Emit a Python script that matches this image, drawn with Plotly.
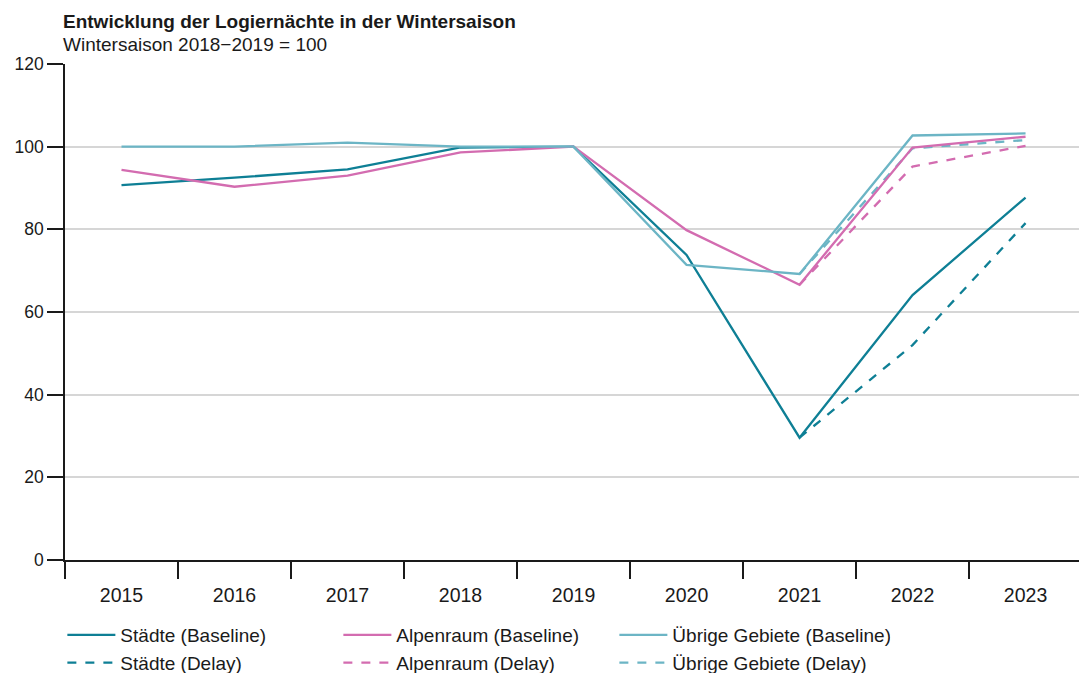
import plotly.graph_objects as go

# Data
years = ["2015", "2016", "2017", "2018", "2019", "2020", "2021", "2022", "2023"]

staedte_base = [90.7, 92.5, 94.5, 99.8, 100, 73.8, 29.6, 64.1, 87.7]
staedte_delay = [None, None, None, None, None, None, 29.6, 52.0, 81.5]
alpen_base = [94.4, 90.3, 93.0, 98.6, 100, 79.8, 66.6, 99.8, 102.4]
alpen_delay = [None, None, None, None, None, None, 66.6, 95.2, 100.2]
uebrige_base = [100, 100, 101, 100, 100, 71.4, 69.2, 102.7, 103.2]
uebrige_delay = [None, None, None, None, None, None, 69.2, 99.6, 101.6]

C_STADT = "#0E7F95"
C_ALPEN = "#D36CB0"
C_UEBRIG = "#6CB5C5"

series = [
    ("Städte (Baseline)", staedte_base, C_STADT, "solid"),
    ("Alpenraum (Baseline)", alpen_base, C_ALPEN, "solid"),
    ("Übrige Gebiete (Baseline)", uebrige_base, C_UEBRIG, "solid"),
    ("Städte (Delay)", staedte_delay, C_STADT, "dash"),
    ("Alpenraum (Delay)", alpen_delay, C_ALPEN, "dash"),
    ("Übrige Gebiete (Delay)", uebrige_delay, C_UEBRIG, "dash"),
]
rank = {s[0]: i + 1 for i, s in enumerate(series)}

fig = go.Figure()

# draw delay lines first so baselines sit on top
for name, vals, color, dash in series[3:] + series[:3]:
    fig.add_trace(go.Scatter(
        x=years, y=vals, mode="lines", name=name,
        line=dict(color=color, width=2.3, dash=dash),
        legendrank=rank[name],
    ))

font = "Liberation Sans, Arial, sans-serif"
TXT = "#1a1a1a"

fig.update_layout(
    width=1079, height=673,
    paper_bgcolor="white", plot_bgcolor="white",
    margin=dict(l=65, r=0, t=64, b=113),
    font=dict(family=font, size=19, color=TXT),
    showlegend=True,
    legend=dict(
        orientation="h",
        xref="container", x=0.0578, xanchor="left",
        yref="container", y=0.0847, yanchor="top",
        entrywidth=213, entrywidthmode="pixels", traceorder="normal",
        font=dict(size=19, color=TXT), itemwidth=48,
        tracegroupgap=0, bgcolor="rgba(0,0,0,0)",
    ),
    xaxis=dict(
        type="category", range=[-0.5, 8.473], automargin=False,
        showgrid=False, showline=True, linecolor=TXT, linewidth=1.5,
        ticks="outside", tickson="boundaries", ticklen=17, tickwidth=1.5,
        tickcolor=TXT, tickfont=dict(size=19.5), ticklabelstandoff=17,
    ),
    yaxis=dict(
        range=[0, 120], tickvals=[0, 20, 40, 60, 80, 100, 120],
        automargin=False,
        showgrid=True, gridcolor="#d6d6d6", gridwidth=1.5,
        showline=True, linecolor=TXT, linewidth=1.5,
        ticks="outside", ticklen=16, tickwidth=1.5, tickcolor=TXT,
        tickfont=dict(size=17.5), zeroline=False,
    ),
)

fig.add_annotation(
    text="<b>Entwicklung der Logiernächte in der Wintersaison</b>",
    xref="paper", yref="paper", x=0, y=(560 - 21) / 496,
    xanchor="left", yanchor="middle", showarrow=False, xshift=-4,
    font=dict(size=19, color=TXT),
)
fig.add_annotation(
    text="Wintersaison 2018−2019 = 100",
    xref="paper", yref="paper", x=0, y=(560 - 44) / 496,
    xanchor="left", yanchor="middle", showarrow=False, xshift=-4,
    font=dict(size=19, color=TXT),
)

# drop the default body margin so the figure fills the window
fig.write_html("out.html", config={"displayModeBar": False},
               post_script="document.body.style.margin='0';")
